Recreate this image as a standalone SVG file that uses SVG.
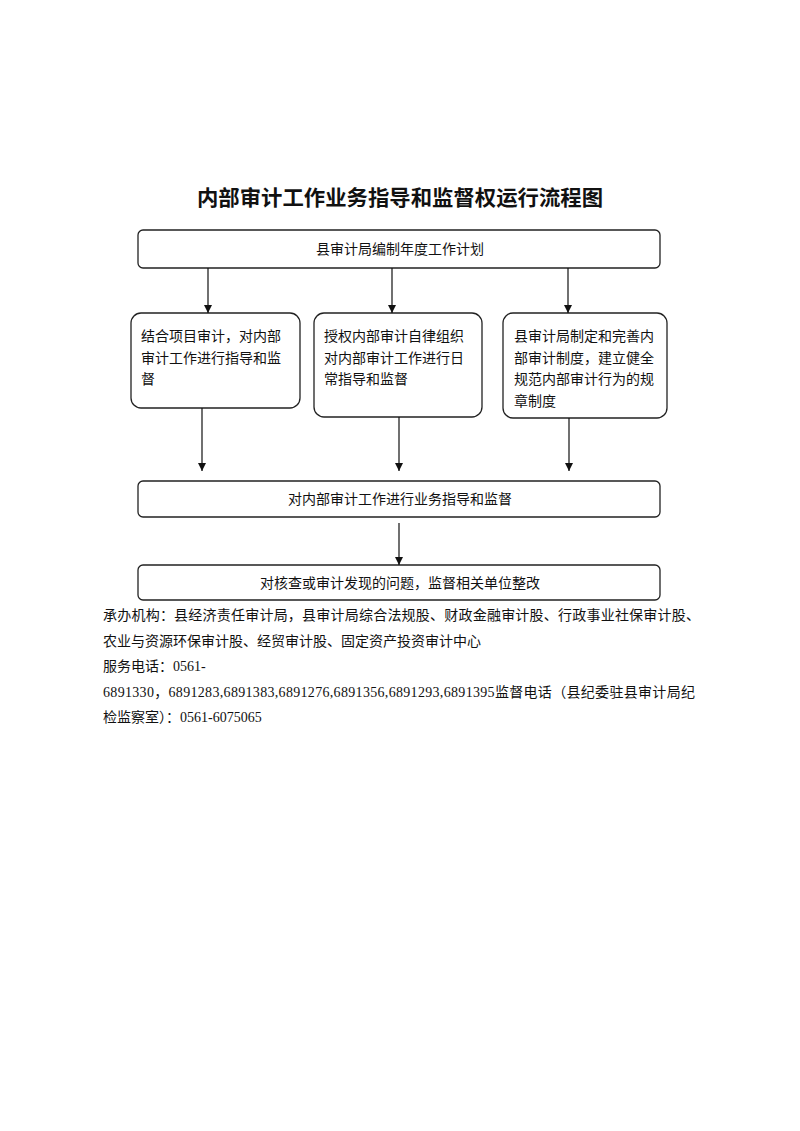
<svg xmlns="http://www.w3.org/2000/svg" width="800" height="1131" viewBox="0 0 800 1131">
<style>
.box{fill:#fff;stroke:#222;stroke-width:1.3}
.t{font-family:"Liberation Serif","Noto Sans CJK SC",serif;font-size:14px;fill:#111}
.c{text-anchor:middle}
.f{font-family:"Liberation Serif","Noto Sans CJK SC",serif;font-size:14px;fill:#111}
.title{font-family:"Noto Sans CJK SC",sans-serif;font-size:21px;font-weight:bold;fill:#111;text-anchor:middle}
.ln{stroke:#111;stroke-width:1.2;fill:none;marker-end:url(#ah)}
</style>
<defs>
<marker id="ah" markerWidth="10" markerHeight="10" refX="8" refY="4" orient="auto" markerUnits="userSpaceOnUse">
<path d="M0,0 L8,4 L0,8 Z" fill="#111"/>
</marker>
</defs>
<rect width="800" height="1131" fill="#fff"/>
<text class="title" x="400" y="205" textLength="406" lengthAdjust="spacingAndGlyphs">内部审计工作业务指导和监督权运行流程图</text>
<g id="n_plan">
<rect class="box" x="138" y="230" width="522" height="38" rx="5"/>
<text class="t c" x="400" y="254">县审计局编制年度工作计划</text>
</g>
<g id="n_a">
<rect class="box" x="131" y="313" width="169" height="95" rx="10"/>
<text class="t" x="141" y="341">结合项目审计，对内部</text>
<text class="t" x="141" y="362.5">审计工作进行指导和监</text>
<text class="t" x="141" y="384">督</text>
</g>
<g id="n_b">
<rect class="box" x="314" y="313" width="168" height="104" rx="10"/>
<text class="t" x="324" y="341">授权内部审计自律组织</text>
<text class="t" x="324" y="362.5">对内部审计工作进行日</text>
<text class="t" x="324" y="384">常指导和监督</text>
</g>
<g id="n_c">
<rect class="box" x="503" y="313" width="164" height="105" rx="10"/>
<text class="t" x="514" y="341">县审计局制定和完善内</text>
<text class="t" x="514" y="362.5">部审计制度，建立健全</text>
<text class="t" x="514" y="384">规范内部审计行为的规</text>
<text class="t" x="514" y="405.5">章制度</text>
</g>
<g id="n_guide">
<rect class="box" x="138" y="481" width="522" height="36" rx="5"/>
<text class="t c" x="400" y="504">对内部审计工作进行业务指导和监督</text>
</g>
<g id="n_fix">
<rect class="box" x="138" y="565" width="522" height="35" rx="5"/>
<text class="t c" x="400" y="588">对核查或审计发现的问题，监督相关单位整改</text>
</g>
<g id="connectors">
<line class="ln" x1="208" y1="268" x2="208" y2="313"/>
<line class="ln" x1="392" y1="268" x2="392" y2="313"/>
<line class="ln" x1="568" y1="268" x2="568" y2="313"/>
<line class="ln" x1="202" y1="408" x2="202" y2="471"/>
<line class="ln" x1="399" y1="417" x2="399" y2="471"/>
<line class="ln" x1="569" y1="418" x2="569" y2="471"/>
<line class="ln" x1="399" y1="523" x2="399" y2="565"/>
</g>
<g id="footer">
<text class="f" x="103" y="620" textLength="597" lengthAdjust="spacing">承办机构：县经济责任审计局，县审计局综合法规股、财政金融审计股、行政事业社保审计股、</text>
<text class="f" x="103" y="646">农业与资源环保审计股、经贸审计股、固定资产投资审计中心</text>
<text class="f" x="103" y="671">服务电话：0561-</text>
<text class="f" x="103" y="697" textLength="592" lengthAdjust="spacing">6891330，6891283,6891383,6891276,6891356,6891293,6891395监督电话（县纪委驻县审计局纪</text>
<text class="f" x="103" y="722">检监察室）：0561-6075065</text>
</g>
</svg>
